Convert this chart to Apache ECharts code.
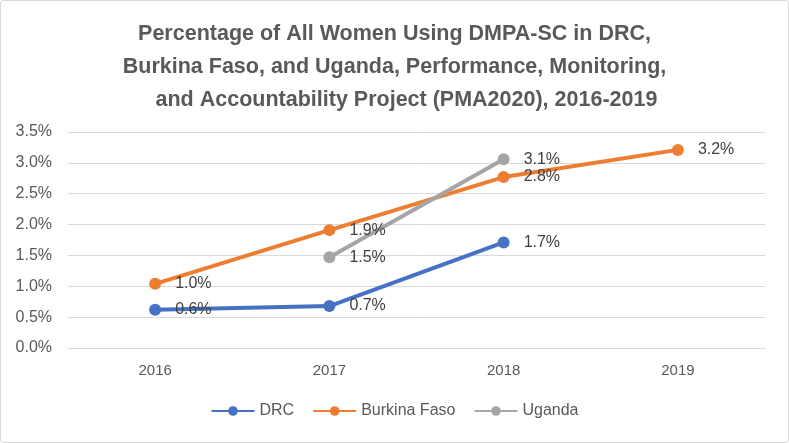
<!DOCTYPE html>
<html><head><meta charset="utf-8">
<script src="https://cdn.jsdelivr.net/npm/echarts@6/dist/echarts.min.js"></script>
<style>
html,body{margin:0;padding:0;background:#fff;}
#c{position:absolute;left:0;top:0;width:787px;height:441px;border:1px solid #d9d9d9;border-radius:3px;}
</style></head>
<body><div id="c"></div>
<script>
const categories = ['2016','2017','2018','2019'];
const drc = [0.62, 0.68, 1.71, null];
const burkina = [1.04, 1.91, 2.77, 3.21];
const uganda = [null, 1.47, 3.06, null];
const yTicks = [0, 0.5, 1, 1.5, 2, 2.5, 3, 3.5];
const titleLines = [
  'Percentage of All Women Using DMPA-SC in DRC,',
  'Burkina Faso, and Uganda, Performance, Monitoring,',
  '    and Accountability Project (PMA2020), 2016-2019'
];
const chart = echarts.init(document.getElementById('c'));
const labelCfg = {show:true, position:'right', distance:14, fontFamily:'Liberation Sans, Arial', fontSize:16, color:'#404040', formatter: p => p.value == null ? '' : p.value.toFixed(1) + '%'};
function ser(name, data, color){
  return {name, type:'line', data, symbol:'circle', symbolSize:12, connectNulls:false,
    lineStyle:{width:4, color}, itemStyle:{color}, label:labelCfg};
}
chart.setOption({
  animation:false,
  title:{text:titleLines.join('\n'), left:'center', top:12,
    textStyle:{fontFamily:'Liberation Sans, Arial', fontWeight:'bold', fontSize:21.5, color:'#595959', lineHeight:33}},
  grid:{left:67, right:23, top:131, bottom:94},
  xAxis:{type:'category', data:categories, boundaryGap:true,
    axisLine:{lineStyle:{color:'#d9d9d9'}}, axisTick:{show:false},
    axisLabel:{fontFamily:'Liberation Sans, Arial', fontSize:15, color:'#595959', margin:15}},
  yAxis:{type:'value', min:0, max:3.5, interval:0.5,
    axisLine:{show:false}, axisTick:{show:false},
    splitLine:{lineStyle:{color:'#d9d9d9', width:1}},
    axisLabel:{fontFamily:'Liberation Sans, Arial', fontSize:16, color:'#595959', margin:16,
      formatter: v => yTicks.includes(v) ? v.toFixed(1) + '%' : ''}},
  legend:{bottom:18, left:'center', itemWidth:43, itemHeight:12, itemGap:18,
    textStyle:{fontFamily:'Liberation Sans, Arial', fontSize:16, color:'#595959'},
    data:['DRC','Burkina Faso','Uganda']},
  series:[ser('DRC', drc, '#4472C4'), ser('Burkina Faso', burkina, '#ED7D31'), ser('Uganda', uganda, '#A5A5A5')]
});
</script></body></html>
